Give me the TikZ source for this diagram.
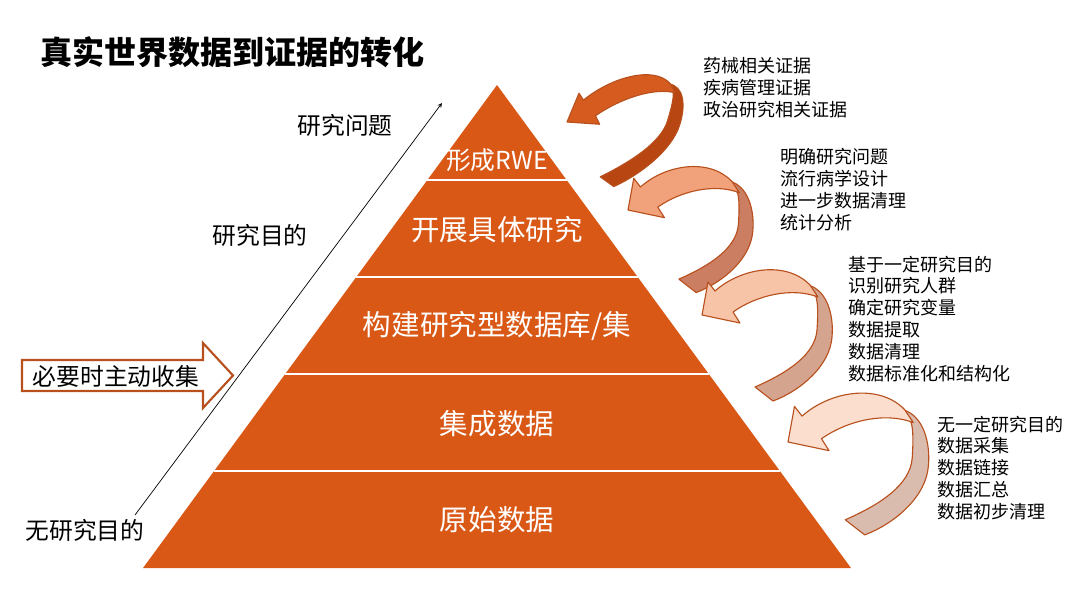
\documentclass[tikz,border=0pt]{standalone}
\usepackage{fontspec}
\setmainfont{Noto Sans CJK SC}
\usetikzlibrary{arrows,positioning}
\definecolor{pyr}{RGB}{217,88,22}
\definecolor{curledge}{RGB}{184,80,30}
\definecolor{curlA}{RGB}{213,92,30}
\definecolor{curlAb}{RGB}{184,70,18}
\definecolor{curlB}{RGB}{242,162,122}
\definecolor{curlBb}{RGB}{203,126,98}
\definecolor{curlC}{RGB}{248,196,168}
\definecolor{curlCb}{RGB}{212,164,142}
\definecolor{curlD}{RGB}{251,222,205}
\definecolor{curlDb}{RGB}{218,188,175}

\begin{document}
\begin{tikzpicture}[x=0.025cm,y=-0.025cm,
    lbl/.style={inner sep=0pt, font=\fontsize{16.9}{20}\selectfont},
    layer/.style={inner sep=0pt, text=white, font=\fontsize{20.3}{24}\selectfont},
    note/.style={anchor=west, align=left, inner sep=0pt, font=\fontsize{12.8}{15.6}\selectfont},
    curl/.style={draw=curledge, line width=0.8pt, line join=round},
    pics/curl/.style 2 args={code={
        % back part of the band
        \filldraw[curl, fill=#2] (106,-30) .. controls (125,-25) and (132,0) .. (130,22)
          .. controls (128,50) and (100,75) .. (71,86) -- (53,72)
          .. controls (85,58) and (113,40) .. (115,15)
          .. controls (116,0) and (116,-12) .. (114,-18) -- cycle;
        % front part with the head
        \filldraw[curl, fill=#1] (0,0) -- (6,-33) -- (13,-24)
          .. controls (40,-48) and (85,-54) .. (108,-30) -- (116,-18)
          .. controls (90,-28) and (55,-20) .. (31,-3) -- (38,8) -- cycle;
    }}]
  \useasboundingbox (0,0) rectangle (1080,588);

  % pyramid
  \coordinate (top) at (497,85);
  \coordinate (bl) at (143,568);
  \coordinate (br) at (851,568);
  \fill[pyr] (top) -- (br) -- (bl) -- cycle;
  \foreach \y in {180,277,374,471}
    \draw[white, line width=2pt] ({497-(\y-85)*0.733},\y) -- ({497+(\y-85)*0.733},\y);

  \node[layer, font=\fontsize{17.6}{20}\selectfont] (rwe) at (497,160) {形成RWE};
  \node[layer] (study) at (497,230) {开展具体研究};
  \node[layer] (db) at (497,326) {构建研究型数据库/集};
  \node[layer] (integ) at (497,424) {集成数据};
  \node[layer] (raw) at (497,520) {原始数据};

  % title and left side
  \node[anchor=west, inner sep=0pt, font=\fontsize{22.8}{26}\selectfont\bfseries] (title) at (40,52) {真实世界数据到证据的转化};
  \node[lbl] (question) at (345,125) {研究问题};
  \node[lbl] (aim) at (260,235) {研究目的};
  \node[lbl] (noaim) at (85,530) {无研究目的};

  \coordinate (lo) at (135,515);
  \coordinate (hi) at (442,103);
  \draw[>=stealth, ->, line width=0.5pt] (lo) -- (hi);

  \filldraw[draw=curledge, fill=white, line width=1.5pt]
    (22,360) -- (203,360) -- (203,343) -- (233,375.5) -- (203,408) -- (203,391) -- (22,391) -- cycle;
  \node[lbl] (collect) at (116,376) {必要时主动收集};

  % curled arrows
  \pic[cm={0.9,0.12,0.2,0.85,(0,0)}] at (567,122) {curl={curlA}{curlAb}};
  \pic[scale=0.96] at (628,210) {curl={curlB}{curlBb}};
  \pic at (702,315) {curl={curlC}{curlCb}};
  \pic[scale=1.08] at (788,442) {curl={curlD}{curlDb}};

  % notes on the right
  \node[note] (evid) at (703,88) {药械相关证据\\疾病管理证据\\政治研究相关证据};
  \node[note] (steps) at (780,190) {明确研究问题\\流行病学设计\\进一步数据清理\\统计分析};
  \node[note] (build) at (848,319) {基于一定研究目的\\识别研究人群\\确定研究变量\\数据提取\\数据清理\\数据标准化和结构化};
  \node[note] (collectn) at (937,468) {无一定研究目的\\数据采集\\数据链接\\数据汇总\\数据初步清理};
\end{tikzpicture}
\end{document}
